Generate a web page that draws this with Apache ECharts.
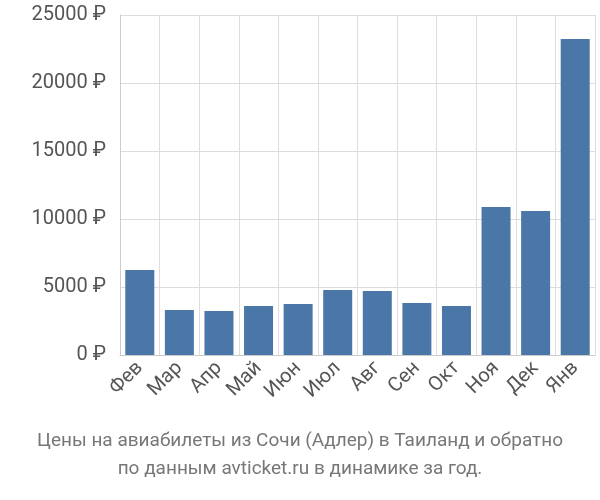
<!DOCTYPE html>
<html><head><meta charset="utf-8">
<script src="https://cdn.jsdelivr.net/npm/echarts@6/dist/echarts.min.js"></script>
<style>html,body{margin:0;padding:0}#c{width:600px;height:500px}</style>
</head><body><div id="c"></div>
<script>
const categories = ['Фев','Мар','Апр','Май','Июн','Июл','Авг','Сен','Окт','Ноя','Дек','Янв'];
const values = [6250,3300,3230,3600,3750,4780,4700,3820,3600,10880,10590,23240];
const chart = echarts.init(document.getElementById('c'));
chart.setOption({
  animation:false,
  title:{text:'Цены на авиабилеты из Сочи (Адлер) в Таиланд и обратно\nпо данным avticket.ru в динамике за год.',
    left:'center',bottom:12,textStyle:{fontFamily:'Roboto',fontSize:19,fontWeight:'normal',color:'#777',lineHeight:28}},
  grid:{left:120,right:5,top:15,bottom:145},
  xAxis:{type:'category',data:categories,
    axisLine:{lineStyle:{color:'#ccc'}},axisTick:{show:false},
    splitLine:{show:true,lineStyle:{color:'#ddd'}},
    axisLabel:{rotate:45,fontFamily:'Roboto',fontSize:20,color:'#555',margin:10,interval:0}},
  yAxis:{type:'value',min:0,max:25000,interval:5000,
    axisLine:{show:true,lineStyle:{color:'#ccc'}},
    splitLine:{lineStyle:{color:'#ddd'}},
    axisLabel:{formatter:v=>v+' ₽',fontFamily:'Roboto',fontSize:20,color:'#555',margin:14}},
  series:[{type:'bar',data:values,barWidth:29,itemStyle:{color:'#4a76a8'}}]
});
</script></body></html>
